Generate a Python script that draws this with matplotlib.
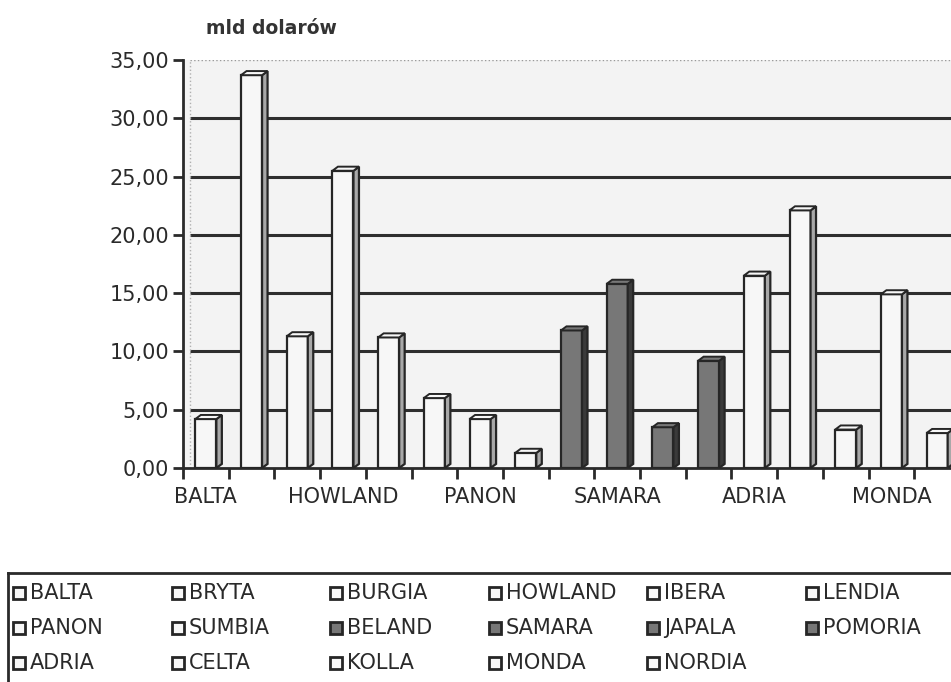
import numpy as np
import matplotlib.pyplot as plt
from matplotlib.patches import Polygon, Rectangle

plt.rcParams['font.family'] = ['DejaVu Sans']

countries = ["BALTA", "BRYTA", "BURGIA", "HOWLAND", "IBERA", "LENDIA",
             "PANON", "SUMBIA", "BELAND", "SAMARA", "JAPALA", "POMORIA",
             "ADRIA", "CELTA", "KOLLA", "MONDA", "NORDIA"]
values = [4.2, 33.7, 11.3, 25.5, 11.2, 6.0, 4.2, 1.3, 11.8, 15.8,
          3.5, 9.2, 16.5, 22.1, 3.3, 14.9, 3.0]
shaded = ["BELAND", "SAMARA", "JAPALA", "POMORIA"]
y_ticks = [0, 5, 10, 15, 20, 25, 30, 35]
unit_label = "mld dolarów"

W, H = 951, 682
fig = plt.figure(figsize=(W / 100, H / 100), dpi=100)
ax = fig.add_axes([183 / W, 214 / H, 777 / W, 408 / H])

n = len(countries)
x = np.arange(n)
ax.set_xlim(-0.5, n - 0.5)
ax.set_ylim(0, 35)
ax.set_facecolor('#f3f3f3')

edge = '#262626'
light_front, light_side = '#f7f7f7', '#a8a8a8'
dark_front, dark_side = '#777777', '#3a3a3a'

# back wall: gridlines start a little behind the axis
ax.hlines(y_ticks[1:-1], -0.35, n - 0.5, colors='#2e2e2e', lw=2.2, zorder=1)
ax.hlines(35, -0.35, n - 0.5, colors='#9a9a9a', lw=1, ls=':', zorder=1)
ax.vlines(-0.35, 0, 35, colors='#b0b0b0', lw=1, ls=':', zorder=1)

# pseudo-3D bars: front face + right side + top
w, dx, dy = 0.46, 0.12, 0.35
for xi, v, name in zip(x, values, countries):
    dark = name in shaded
    front_c = dark_front if dark else light_front
    side_c = dark_side if dark else light_side
    ax.bar(xi, v, width=w, color=front_c, edgecolor=edge, lw=1.6, zorder=3)
    r, l = xi + w / 2, xi - w / 2
    ax.add_patch(Polygon([(r, 0), (r + dx, dy), (r + dx, v + dy), (r, v)],
                         closed=True, facecolor=side_c, edgecolor=edge,
                         lw=1.6, zorder=3))
    ax.add_patch(Polygon([(l, v), (r, v), (r + dx, v + dy), (l + dx, v + dy)],
                         closed=True, facecolor=front_c, edgecolor=edge,
                         lw=1.4, zorder=4))

for s in ['top', 'right']:
    ax.spines[s].set_visible(False)
for s in ['left', 'bottom']:
    ax.spines[s].set_linewidth(2)
    ax.spines[s].set_color('#2a2a2a')

ax.set_yticks(y_ticks)
ax.set_yticklabels([f"{t:.2f}".replace('.', ',') for t in y_ticks])
ax.tick_params(axis='y', length=7, width=2, color='#2a2a2a', pad=3,
               labelsize=15, labelcolor='#2a2a2a')

ax.set_xticks(x[::3])
ax.set_xticklabels(countries[::3])
ax.set_xticks(np.arange(-0.5, n, 1.0), minor=True)
ax.tick_params(axis='x', which='major', length=0, pad=14,
               labelsize=15, labelcolor='#2a2a2a')
ax.tick_params(axis='x', which='minor', length=8, width=2, color='#2a2a2a')

fig.text(271 / W, 1 - 28 / H, unit_label, ha='center', va='center',
         fontsize=13.5, fontweight='bold', color='#333333')

# legend grid, six entries per row
pitch = 158.6
leg = fig.add_axes([8 / W, 0, 6 * pitch / W, 109 / H])
leg.set_xlim(0, 6)
leg.set_ylim(109 / 35, 0)
leg.set_xticks([])
leg.set_yticks([])
for s in ['right', 'bottom']:
    leg.spines[s].set_visible(False)
for s in ['left', 'top']:
    leg.spines[s].set_linewidth(2)
    leg.spines[s].set_color('#2a2a2a')

sq_w, sq_h = 12 / pitch, 12 / 35
for i, name in enumerate(countries):
    col, row = i % 6, i // 6
    yc = row + 0.57
    x0 = col + 5 / pitch
    fc = dark_front if name in shaded else light_front
    leg.add_patch(Rectangle((x0, yc - sq_h / 2), sq_w, sq_h, facecolor=fc,
                            edgecolor=edge, lw=2))
    leg.text(col + 22 / pitch, yc, name, ha='left', va='center',
             fontsize=15, color='#2a2a2a')

fig.savefig('out.png', dpi=100)
